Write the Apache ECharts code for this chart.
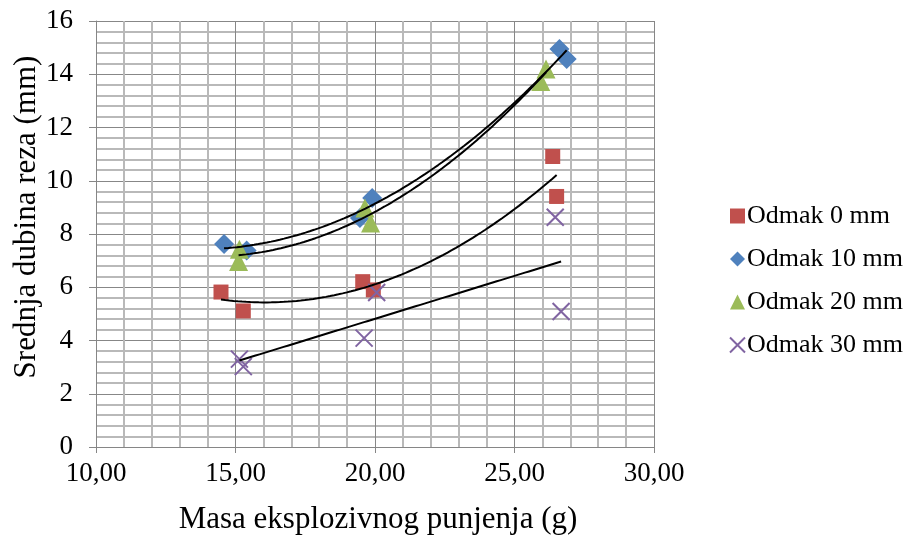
<!DOCTYPE html>
<html><head><meta charset="utf-8">
<script src="https://cdn.jsdelivr.net/npm/echarts@6/dist/echarts.min.js"></script>
<style>html,body{margin:0;padding:0;background:#fff}#c{width:908px;height:538px}</style>
</head><body><div id="c"></div>
<script>
// Data
const seriesNames = ['Odmak 0 mm', 'Odmak 10 mm', 'Odmak 20 mm', 'Odmak 30 mm'];
const x0  = [14.48, 15.28, 19.56, 19.94, 26.37, 26.51];
const y0  = [5.82, 5.11, 6.21, 5.90, 10.91, 9.41];
const x10 = [14.59, 15.40, 19.46, 19.90, 26.61, 26.87];
const y10 = [7.62, 7.38, 8.60, 9.35, 14.95, 14.57];
const x20 = [15.11, 15.14, 19.64, 19.84, 25.94, 26.13];
const y20 = [6.97, 7.43, 8.98, 8.41, 13.73, 14.20];
const x30 = [15.14, 15.28, 19.61, 20.06, 26.46, 26.67];
const y30 = [3.30, 3.02, 4.09, 5.80, 8.63, 5.09];
const trendOrder = [2, 2, 2, 1]; // polynomial order of each trendline
const xTickLabels = ['10,00', '15,00', '20,00', '25,00', '30,00'];
const yTickLabels = ['0', '2', '4', '6', '8', '10', '12', '14', '16'];
const xTitle = 'Masa eksplozivnog punjenja (g)';
const yTitle = 'Srednja dubina reza (mm)';

const colors = ['#C0504D', '#4F81BD', '#9BBB59', '#8064A2'];
const symbols = ['rect', 'diamond', 'triangle', 'path://M0,0L10,10M10,0L0,10'];
const symbolSizes = [15, 20, 19, 17];
const xs = [x0, x10, x20, x30];
const ys = [y0, y10, y20, y30];

function solve(A, b) {
  const n = b.length;
  const M = A.map((r, i) => r.concat([b[i]]));
  for (let i = 0; i < n; i++) {
    let p = i;
    for (let k = i + 1; k < n; k++) if (Math.abs(M[k][i]) > Math.abs(M[p][i])) p = k;
    [M[i], M[p]] = [M[p], M[i]];
    for (let k = i + 1; k < n; k++) {
      const f = M[k][i] / M[i][i];
      for (let j = i; j <= n; j++) M[k][j] -= f * M[i][j];
    }
  }
  const x = new Array(n).fill(0);
  for (let i = n - 1; i >= 0; i--) {
    let s = M[i][n];
    for (let j = i + 1; j < n; j++) s -= M[i][j] * x[j];
    x[i] = s / M[i][i];
  }
  return x;
}
function polyFit(xv, yv, order) {
  const n = order + 1;
  const A = [], b = [];
  for (let i = 0; i < n; i++) {
    A.push([]);
    for (let j = 0; j < n; j++) A[i].push(xv.reduce((s, x) => s + Math.pow(x, i + j), 0));
    b.push(xv.reduce((s, x, k) => s + Math.pow(x, i) * yv[k], 0));
  }
  return solve(A, b);
}
function trend(xv, yv, order) {
  const c = polyFit(xv, yv, order);
  const lo = Math.min(...xv), hi = Math.max(...xv);
  const pts = [];
  const N = 80;
  for (let i = 0; i <= N; i++) {
    const x = lo + (hi - lo) * i / N;
    let y = 0;
    for (let k = 0; k < c.length; k++) y += c[k] * Math.pow(x, k);
    pts.push([x, y]);
  }
  return pts;
}

const font = 'Liberation Serif';
const series = [];
for (let i = 0; i < 4; i++) {
  const isX = i === 3;
  series.push({
    name: seriesNames[i], type: 'scatter',
    data: xs[i].map((x, k) => [x, ys[i][k]]),
    symbol: symbols[i], symbolSize: symbolSizes[i],
    itemStyle: isX ? { color: 'rgba(0,0,0,0)', borderColor: colors[i], borderWidth: 2, opacity: 1 }
                   : { color: colors[i], opacity: 1 },
    emphasis: { disabled: true }, z: 2
  });
}
for (let i = 0; i < 4; i++) {
  series.push({
    name: 'trend' + i, type: 'line', data: trend(xs[i], ys[i], trendOrder[i]),
    showSymbol: false, symbol: 'none', smooth: false,
    lineStyle: { color: '#000', width: 2 }, z: 3, silent: true
  });
}

const chart = echarts.init(document.getElementById('c'));
chart.setOption({
  animation: false,
  backgroundColor: '#fff',
  grid: { left: 96, right: 254, top: 21, bottom: 91, containLabel: false },
  xAxis: {
    type: 'value', min: 10, max: 30, interval: 5,
    axisLine: { show: true, lineStyle: { color: '#868686', width: 1 } },
    axisTick: { show: true, length: 6, lineStyle: { color: '#868686' } },
    minorTick: { show: false, splitNumber: 5 },
    splitLine: { show: true, lineStyle: { color: '#878787', width: 1 } },
    minorSplitLine: { show: true, lineStyle: { color: '#b9b9b9', width: 2 } },
    axisLabel: { margin: 13, color: '#000', fontFamily: font, fontSize: 27,
      formatter: v => xTickLabels[Math.round((v - 10) / 5)] }
  },
  yAxis: {
    type: 'value', min: 0, max: 16, interval: 2,
    axisLine: { show: true, lineStyle: { color: '#868686', width: 1 } },
    axisTick: { show: true, length: 7, lineStyle: { color: '#868686' } },
    minorTick: { show: false, splitNumber: 5 },
    splitLine: { show: true, lineStyle: { color: '#878787', width: 1 } },
    minorSplitLine: { show: true, lineStyle: { color: '#b9b9b9', width: 2 } },
    axisLabel: { margin: 23, color: '#000', fontFamily: font, fontSize: 27,
      formatter: v => yTickLabels[Math.round(v / 2)] }
  },
  legend: {
    data: seriesNames, orient: 'vertical', left: 724, top: 198,
    itemWidth: 15, itemHeight: 15, itemGap: 17, selectedMode: false,
    textStyle: { fontFamily: font, fontSize: 26, color: '#000', padding: [0, 0, 0, -3] }
  },
  graphic: [
    { type: 'text', x: 27, y: 217, rotation: Math.PI / 2,
      style: { text: yTitle, font: '31px "Liberation Serif"', fill: '#000', align: 'center', verticalAlign: 'middle' } },
    { type: 'text', x: 378, y: 520,
      style: { text: xTitle, font: '31px "Liberation Serif"', fill: '#000', align: 'center', verticalAlign: 'middle' } }
  ],
  series: series
});
</script>
</body></html>
